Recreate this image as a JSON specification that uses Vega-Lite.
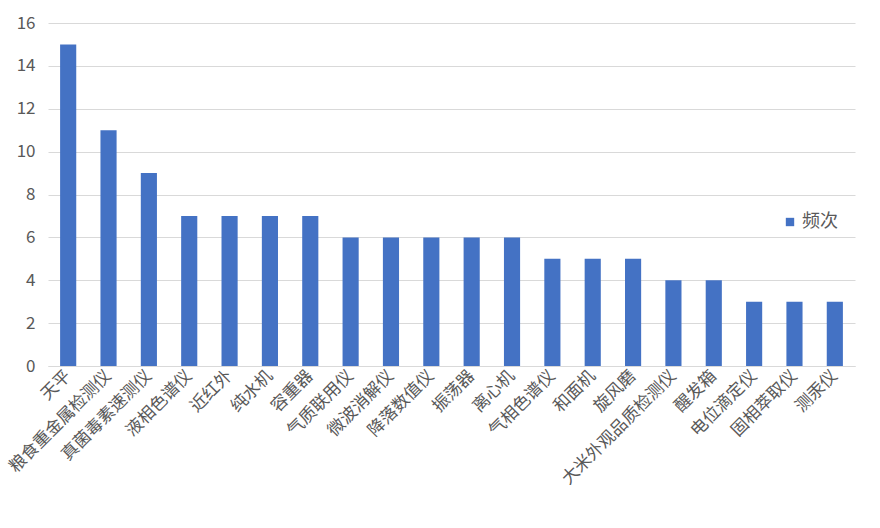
{
  "$schema": "https://vega.github.io/schema/vega-lite/v6.json",
  "width": 807,
  "height": 343,
  "autosize": {"type": "none"},
  "padding": {"left": 48, "top": 23, "right": 25, "bottom": 162},
  "background": "white",
  "data": {
    "values": [
      {"name": "天平", "value": 15, "series": "频次"},
      {"name": "粮食重金属检测仪", "value": 11, "series": "频次"},
      {"name": "真菌毒素速测仪", "value": 9, "series": "频次"},
      {"name": "液相色谱仪", "value": 7, "series": "频次"},
      {"name": "近红外", "value": 7, "series": "频次"},
      {"name": "纯水机", "value": 7, "series": "频次"},
      {"name": "容重器", "value": 7, "series": "频次"},
      {"name": "气质联用仪", "value": 6, "series": "频次"},
      {"name": "微波消解仪", "value": 6, "series": "频次"},
      {"name": "降落数值仪", "value": 6, "series": "频次"},
      {"name": "振荡器", "value": 6, "series": "频次"},
      {"name": "离心机", "value": 6, "series": "频次"},
      {"name": "气相色谱仪", "value": 5, "series": "频次"},
      {"name": "和面机", "value": 5, "series": "频次"},
      {"name": "旋风磨", "value": 5, "series": "频次"},
      {"name": "大米外观品质检测仪", "value": 4, "series": "频次"},
      {"name": "醒发箱", "value": 4, "series": "频次"},
      {"name": "电位滴定仪", "value": 3, "series": "频次"},
      {"name": "固相萃取仪", "value": 3, "series": "频次"},
      {"name": "测汞仪", "value": 3, "series": "频次"}
    ]
  },
  "mark": {"type": "bar"},
  "encoding": {
    "x": {
      "field": "name",
      "type": "nominal",
      "sort": null,
      "scale": {"paddingInner": 0.6, "paddingOuter": 0.3},
      "axis": {
        "title": null,
        "labelAngle": -45,
        "labelAlign": "right",
        "labelBaseline": "middle",
        "labelFont": "Noto Sans CJK SC",
        "labelFontSize": 17,
        "labelColor": "#595959",
        "labelPadding": 7,
        "ticks": false,
        "domainColor": "#d9d9d9",
        "domainWidth": 1,
        "labelOverlap": false,
        "labelLimit": 300
      }
    },
    "y": {
      "field": "value",
      "type": "quantitative",
      "scale": {"domain": [0, 16]},
      "axis": {
        "title": null,
        "values": [0, 2, 4, 6, 8, 10, 12, 14, 16],
        "domain": false,
        "ticks": false,
        "labelPadding": 13,
        "labelFont": "Noto Sans CJK SC",
        "labelFontSize": 17,
        "labelColor": "#595959",
        "gridColor": "#d9d9d9",
        "gridWidth": 1
      }
    },
    "color": {
      "field": "series",
      "type": "nominal",
      "scale": {"range": ["#4472C4"]},
      "legend": {
        "title": null,
        "orient": "none",
        "legendX": 733,
        "legendY": 190,
        "symbolType": "square",
        "symbolSize": 70,
        "labelFont": "Noto Sans CJK SC",
        "labelFontSize": 18,
        "labelColor": "#595959",
        "labelOffset": 3,
        "fillColor": "white"
      }
    }
  },
  "config": {"view": {"stroke": null}}
}
